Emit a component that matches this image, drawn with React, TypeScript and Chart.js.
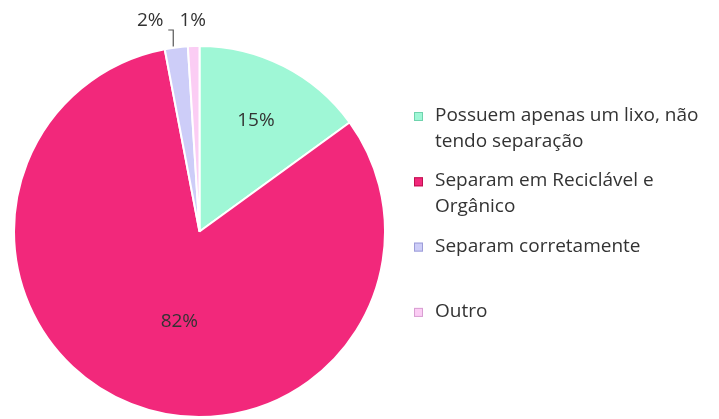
import React, { useEffect, useRef } from "react";
import { Chart, registerables } from "chart.js";
Chart.register(...registerables);

const categories = [
  "Possuem apenas um lixo, não tendo separação",
  "Separam em Reciclável e Orgânico",
  "Separam corretamente",
  "Outro",
];
const legendLines = [
  ["Possuem apenas um lixo, não", "tendo separação"],
  ["Separam em Reciclável e", "Orgânico"],
  ["Separam corretamente"],
  ["Outro"],
];
const values = [15, 82, 2, 1];
const percentLabels = ["15%", "82%", "2%", "1%"];
const colors = ["#9ff7d6", "#f2287b", "#cdcdf8", "#fbcdf4"];
const markerBorders = ["#6fd3ad", "#c0104f", "#9d9dd8", "#d99fd2"];

const FONT = "'Open Sans', 'Noto Sans', sans-serif";
const TEXT_COLOR = "#333333";

const overlay = {
  id: "overlay",
  afterDatasetsDraw(chart: any) {
    const ctx = chart.ctx as CanvasRenderingContext2D;
    const meta = chart.getDatasetMeta(0);
    ctx.save();
    ctx.fillStyle = TEXT_COLOR;
    ctx.textAlign = "center";
    ctx.textBaseline = "middle";
    ctx.font = `19px ${FONT}`;
    const insideFrac = [0.67, 0.5];
    meta.data.forEach((arc: any, i: number) => {
      const p = arc.getProps(["x", "y", "startAngle", "endAngle", "outerRadius"], true);
      const mid = (p.startAngle + p.endAngle) / 2;
      if (i < 2) {
        const r = p.outerRadius * insideFrac[i];
        ctx.fillText(percentLabels[i], p.x + Math.cos(mid) * r + (i === 1 ? 14 : 0), p.y + Math.sin(mid) * r + (i === 1 ? 4 : 0));
      } else {
        const ex = p.x + Math.cos(mid) * p.outerRadius;
        const ey = p.y + Math.sin(mid) * p.outerRadius;
        const ly = p.y - p.outerRadius - 25;
        if (i === 2) {
          const lx = ex - 26;
          ctx.fillText(percentLabels[i], lx, ly);
          ctx.strokeStyle = "#555";
          ctx.lineWidth = 1.2;
          ctx.beginPath();
          ctx.moveTo(lx + 18, ly + 9);
          ctx.lineTo(ex - 3, ly + 9);
          ctx.lineTo(ex - 3, ey - 1);
          ctx.stroke();
        } else {
          ctx.fillText(percentLabels[i], ex - 1, ly);
        }
      }
    });

    // legend
    ctx.textAlign = "left";
    ctx.textBaseline = "alphabetic";
    ctx.font = `19px ${FONT}`;
    legendLines.forEach((lines, i) => {
      const base = 121 + i * 65.3;
      ctx.fillStyle = colors[i];
      ctx.fillRect(414, base - 9, 9, 9);
      ctx.strokeStyle = markerBorders[i];
      ctx.lineWidth = 1;
      ctx.strokeRect(414.5, base - 8.5, 8, 8);
      ctx.fillStyle = TEXT_COLOR;
      lines.forEach((t, j) => ctx.fillText(t, 435, base + j * 26));
    });
    ctx.restore();
  },
};

export default function App() {
  const ref = useRef<HTMLCanvasElement>(null);
  useEffect(() => {
    const chart = new Chart(ref.current!, {
      type: "pie",
      data: {
        labels: categories,
        datasets: [
          {
            data: values,
            backgroundColor: colors,
            borderColor: "#ffffff",
            borderWidth: 2,
          },
        ],
      },
      options: {
        animation: false,
        responsive: false,
        layout: { padding: { left: 13, right: 333, top: 44, bottom: 0 } },
        plugins: { legend: { display: false }, tooltip: { enabled: false } },
      },
      plugins: [overlay],
    });
    return () => chart.destroy();
  }, []);
  return (
    <div style={{ position: "fixed", left: 0, top: 0, width: 719, height: 419, background: "#fff" }}>
      <canvas ref={ref} width={719} height={419} />
    </div>
  );
}
